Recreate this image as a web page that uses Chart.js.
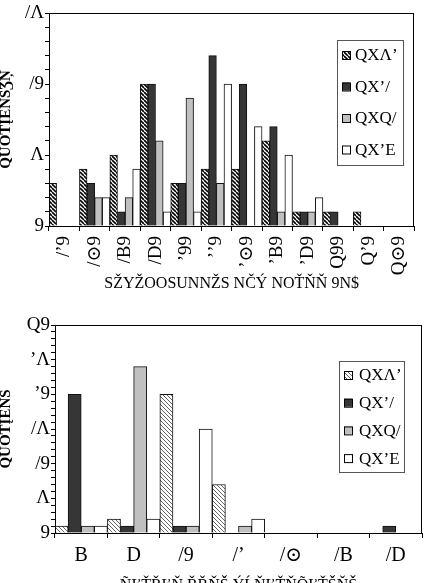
<!DOCTYPE html>
<html>
<head>
<meta charset="utf-8">
<script src="https://cdn.jsdelivr.net/npm/chart.js@4.4.0/dist/chart.umd.min.js"></script>
<style>
html,body{margin:0;padding:0;background:#fff;}
#wrap{position:relative;width:427px;height:583px;overflow:hidden;}
#topChart{position:absolute;left:0;top:0;}
#bottomChart{position:absolute;left:0;top:300px;}
</style>
</head>
<body>
<div id="wrap">
<canvas id="topChart" width="427" height="300"></canvas>
<canvas id="bottomChart" width="427" height="295"></canvas>
</div>
<script>
// series names (legend), same for both charts
var seriesNames = ['QXΛʼ','QXʼ/','QXQ/','QXʼE'];

// top chart
var topCategories = ['/ʼ9','/⊙9','/B9','/D9','ʼ99','ʼʼ9','ʼ⊙9','ʼB9','ʼD9','Q99','Qʼ9','Q⊙9'];
var topHatched = [3,4,5,10,3,4,4,6,1,1,1,0];
var topDark    = [0,3,1,10,3,12,10,7,1,1,0,0];
var topGray    = [0,2,2,6,9,3,0,1,1,0,0,0];
var topWhite   = [0,2,4,1,1,10,7,5,2,0,0,0];
var topYLabels = {0:'9',5:'Λ',10:'/9',15:'/Λ'};
var topXTitle = 'SŽYŽOOSUNNŽS NČÝ NOŤŇŇ 9N$';
var topYTitle = 'QUOŤĮENŠǮŅ';

// bottom chart
var bottomCategories = ['B','D','/9','/ʼ','/⊙','/B','/D'];
var bottomHatched = [1,2,20,7,0,0,0];
var bottomDark    = [20,1,1,0,0,0,1];
var bottomGray    = [1,24,1,1,0,0,0];
var bottomWhite   = [1,2,15,2,0,0,0];
var bottomYLabels = {0:'9',5:'Λ',10:'/9',15:'/Λ',20:'ʼ9',25:'ʼΛ',30:'Q9'};
var bottomXTitle = 'ÑĽŤŘĽŇ ŘŘŇŠ ÝĹŇĽŤŇÕĽŤŠŇŠ';
var bottomYTitle = 'QUOŤĮENŠ';

var serif = "'Liberation Serif', 'DejaVu Serif', serif";

//------------------------------------------------------------//
//--------------------HELPERS---------------------------------//
//------------------------------------------------------------//

function hatch(color, lw, size){
	var c = document.createElement('canvas');
	c.width = size; c.height = size;
	var g = c.getContext('2d');
	g.fillStyle = '#fff';
	g.fillRect(0,0,size,size);
	g.strokeStyle = color;
	g.lineWidth = lw;
	g.beginPath();
	for(var k=-1;k<=1;k++){
		g.moveTo(k*size,0);
		g.lineTo(k*size+size,size);
	}
	g.stroke();
	return g.createPattern(c,'repeat');
}

var framePlugin = {
	id:'frame',
	afterDraw:function(chart){
		var a = chart.chartArea, ctx = chart.ctx;
		ctx.save();
		ctx.strokeStyle = '#000';
		ctx.lineWidth = 1;
		ctx.strokeRect(Math.round(a.left)+0.5, Math.round(a.top)+0.5, Math.round(a.right-a.left)-1, Math.round(a.bottom-a.top));
		ctx.restore();
	}
};

var boxLegendPlugin = {
	id:'boxLegend',
	afterDraw:function(chart, args, o){
		var ctx = chart.ctx;
		ctx.save();
		ctx.fillStyle = '#fff';
		ctx.fillRect(o.left, o.top, o.width, o.height);
		ctx.strokeStyle = '#555';
		ctx.lineWidth = 1;
		ctx.strokeRect(o.left+0.5, o.top+0.5, o.width, o.height);
		ctx.font = '17px ' + serif;
		ctx.textBaseline = 'middle';
		chart.data.datasets.forEach(function(ds, i){
			var y = o.top + o.first + i*o.gap;
			ctx.fillStyle = ds.backgroundColor;
			ctx.fillRect(o.left+5, y-4, 8, 8);
			ctx.strokeStyle = '#000';
			ctx.strokeRect(o.left+5.5, y-3.5, 8, 8);
			ctx.fillStyle = '#000';
			ctx.fillText(ds.label, o.left+o.textX, y+1);
		});
		ctx.restore();
	}
};

function makeChart(id, cfg){
	var ctx = document.getElementById(id).getContext('2d');
	var fills = [cfg.hatch, '#363636', '#c0c0c0', '#ffffff'];
	var values = [cfg.hatched, cfg.dark, cfg.gray, cfg.white];
	var datasets = [];
	for(var i=0;i<4;i++){
		datasets.push({
			label: seriesNames[i],
			data: values[i],
			backgroundColor: fills[i],
			borderColor: '#111',
			borderWidth: 1,
			barPercentage: 1,
			categoryPercentage: 1
		});
	}
	return new Chart(ctx, {
		type:'bar',
		data:{ labels: cfg.labels, datasets: datasets },
		plugins:[framePlugin, boxLegendPlugin],
		options:{
			responsive:false,
			animation:false,
			layout:{ padding:{ left:0, right:5, top:cfg.top, bottom:0 } },
			plugins:{
				legend:{ display:false },
				tooltip:{ enabled:false },
				boxLegend: cfg.legend
			},
			scales:{
				x:{
					grid:{ drawOnChartArea:false, tickLength:5, color:'#000', offset:true },
					border:{ color:'#000' },
					ticks:{
						color:'#000', font:{ family:serif, size:cfg.xFont },
						minRotation:cfg.rot, maxRotation:cfg.rot, padding:cfg.xPad, autoSkip:false
					},
					title:{ display:true, text:cfg.xTitle, color:'#000', font:{ family:serif, size:16 }, padding:{ top:0, bottom:cfg.xTitlePad } },
					afterFit:function(s){ s.height = cfg.xHeight; }
				},
				y:{
					min:0, max:cfg.max,
					grid:{ drawOnChartArea:false, tickLength:4, color:'#000' },
					border:{ color:'#000' },
					ticks:{
						stepSize:1, autoSkip:false, padding:1, color:'#000',
						font:{ family:serif, size:19 },
						callback:function(v){ return cfg.yLabels[v] !== undefined ? cfg.yLabels[v] : ''; }
					},
					title:{ display:true, text:cfg.yTitle, color:'#000', font:{ family:serif, size:15, weight:'bold' }, padding:{ top:-3, bottom:0 } },
					afterFit:function(s){ s.width = cfg.yWidth; }
				}
			}
		}
	});
}

//------------------------------------------------------------//
//--------------------CHARTS----------------------------------//
//------------------------------------------------------------//

makeChart('topChart', {
	labels: topCategories,
	hatched: topHatched, dark: topDark, gray: topGray, white: topWhite,
	hatch: hatch('#000', 1.6, 4),
	max: 15, yLabels: topYLabels,
	xTitle: topXTitle, yTitle: topYTitle,
	top: 13, yWidth: 49, xHeight: 74, xFont: 19, rot: 90, xPad: 5, xTitlePad: 7,
	legend: { left:337, top:40, width:66, height:125, first:15, gap:31.5, textX:18 }
});

makeChart('bottomChart', {
	labels: bottomCategories,
	hatched: bottomHatched, dark: bottomDark, gray: bottomGray, white: bottomWhite,
	hatch: hatch('#666', 1, 4),
	max: 30, yLabels: bottomYLabels,
	xTitle: bottomXTitle, yTitle: bottomYTitle,
	top: 25, yWidth: 55, xHeight: 62, xFont: 20, rot: 0, xPad: 6, xTitlePad: 0,
	legend: { left:339, top:61, width:65, height:111, first:14, gap:27.7, textX:20 }
});
</script>
</body>
</html>
